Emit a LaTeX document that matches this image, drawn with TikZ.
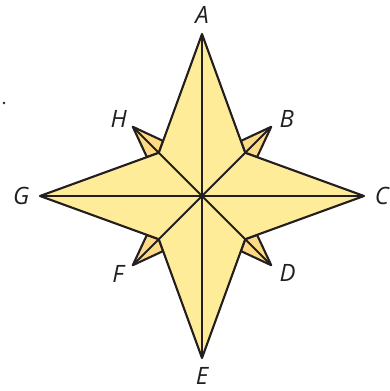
\documentclass[tikz,border=0pt]{standalone}
\usepackage{fontspec}
\setmainfont{Open Sans}
\usetikzlibrary{calc}
\definecolor{starfill}{RGB}{255,236,153}
\definecolor{kitefill}{RGB}{253,218,131}
\definecolor{inkline}{RGB}{35,31,32}

\begin{document}
\begin{tikzpicture}[line width=1.5pt, line join=round, draw=inkline,
  lbl/.style={font=\fontsize{17}{19}\selectfont\itshape, text=inkline, inner sep=0pt}]
  \useasboundingbox (-5.05,-4.875) rectangle (4.7,4.9);
  % big arms, inner corners and small tips
  \coordinate (O) at (0,0);
  \foreach \name/\x/\y in {A/0/4.05,C/4.05/0,E/0/-4.05,G/-4.05/0} {\coordinate (\name) at (\x,\y);}
  \foreach \name/\x/\y in {B/1/1,D/1/-1,F/-1/-1,H/-1/1} {
    \coordinate (I\name) at (1.08*\x,1.08*\y);
    \coordinate (\name) at (1.73*\x,1.73*\y);
  }
  % small points behind the star
  \foreach \s/\p/\q in {B/A/C,D/C/E,F/E/G,H/G/A} {
    \filldraw[fill=kitefill] (\s) -- ($(I\s)!0.1!(\p)$) -- (I\s) -- ($(I\s)!0.1!(\q)$) -- cycle;
  }
  \filldraw[fill=starfill] (A) -- (IB) -- (C) -- (ID) -- (E) -- (IF) -- (G) -- (IH) -- cycle;
  \draw (A) -- (E);
  \draw (G) -- (C);
  \draw (H) -- (D);
  \draw (B) -- (F);
  % labels
  \foreach \name/\x/\y in {A/0/4.53,C/4.5/0,E/0/-4.49,G/-4.52/0,B/2.12/1.92,D/2.14/-1.93,F/-2.1/-1.94,H/-2.08/1.92} {
    \node[lbl] (L\name) at (\x,\y) {\name};
  }
  \fill[inkline] (-4.95,2.325) circle (0.035);
\end{tikzpicture}
\end{document}
